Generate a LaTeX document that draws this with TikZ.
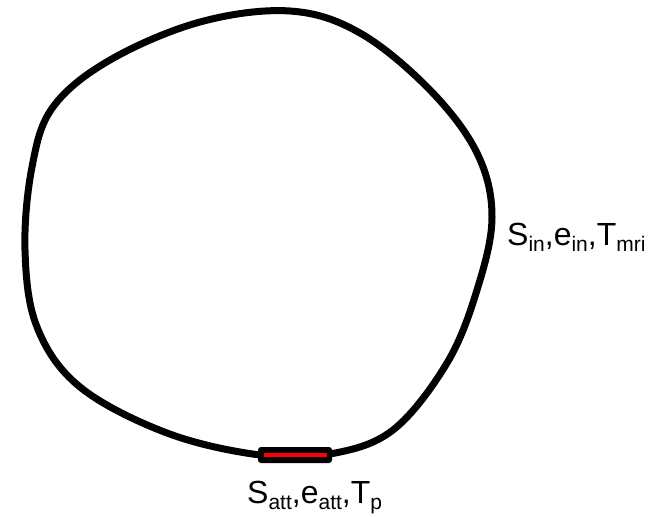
\documentclass[tikz,border=0pt]{standalone}
\usepackage{fontspec}
\setmainfont{Liberation Sans}
\newcommand\lsub[1]{\raisebox{-6.5pt}{\fontsize{21}{21}\selectfont #1}}
\tikzset{
  loopline/.style={line width=7pt, black, line join=round},
  label/.style={font=\fontsize{32}{32}\selectfont, inner sep=0pt, anchor=base west},
}
\begin{document}
\begin{tikzpicture}[x=1pt,y=-1pt]
\useasboundingbox (0,0) rectangle (659,517);
\draw[loopline] plot[smooth cycle, tension=0.6] coordinates {
(290,11) (360,33) (430,90) (477,153) (492,217) (477,290) (447,363) (393,430)
(330,454) (260,455) (167,433) (80,387) (37,327) (25,250) (32,167) (53,107)
(110,60) (200,22)};
\fill[black, rounded corners=3pt] (258,447) rectangle (332,463);
\coordinate (ra) at (264,455);
\coordinate (rb) at (327,455);
\draw[red, line width=4.5pt] (ra) -- (rb);
\node[label] (lin) at (507,245) {S\lsub{in},e\lsub{in},T\lsub{mri}};
\node[label] (latt) at (247,503) {S\lsub{att},e\lsub{att},T\lsub{p}};
\end{tikzpicture}
\end{document}
